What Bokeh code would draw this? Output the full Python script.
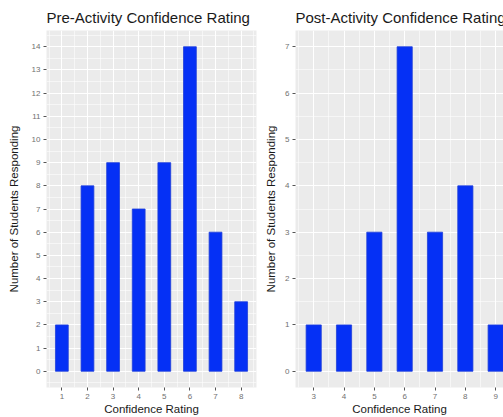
from bokeh.plotting import figure
from bokeh.layouts import row
from bokeh.models import FixedTicker, Range1d
from bokeh.embed import file_html
from bokeh.resources import INLINE

pre_ratings = [1, 2, 3, 4, 5, 6, 7, 8]
pre_counts = [2, 8, 9, 7, 9, 14, 6, 3]
post_ratings = [3, 4, 5, 6, 7, 8, 9]
post_counts = [1, 1, 3, 7, 3, 4, 1]
pre_yticks = list(range(0, 15))
post_yticks = list(range(0, 8))

FONT = "Liberation Sans"
BAR = "#0530f5"


def make(title, xs, ys, xr, yr, yticks, width, mbl, mbr, ylab_standoff):
    p = figure(width=width, height=417, x_range=Range1d(*xr), y_range=Range1d(*yr),
               output_backend="svg", toolbar_location=None,
               min_border_left=mbl, min_border_right=mbr, min_border_top=30, min_border_bottom=30)
    p.background_fill_color = "#EBEBEB"
    p.border_fill_color = "white"
    p.outline_line_color = None
    p.vbar(x=xs, top=ys, width=0.5, fill_color=BAR, line_color="#1f3fd8", line_width=0.8)

    xminor = [v + 0.5 for v in [xs[0] - 1] + list(xs)]
    yminor = [v + 0.5 for v in [-1] + list(yticks)]
    p.xaxis.ticker = FixedTicker(ticks=list(xs), minor_ticks=xminor)
    p.yaxis.ticker = FixedTicker(ticks=list(yticks), minor_ticks=yminor)
    for g in (p.xgrid, p.ygrid):
        g.grid_line_color = "white"
        g.grid_line_width = 1.1
        g.minor_grid_line_color = "white"
        g.minor_grid_line_width = 0.55
    for ax in (p.xaxis, p.yaxis):
        ax.axis_line_color = None
        ax.major_tick_line_color = "#555555"
        ax.major_tick_out = 3
        ax.major_tick_in = 0
        ax.minor_tick_line_color = None
        ax.major_label_text_font = FONT
        ax.major_label_text_font_size = "8px"
        ax.major_label_text_color = "#707070"
        ax.major_label_standoff = 2
        ax.axis_label_text_font = FONT
        ax.axis_label_text_font_size = "11.5px"
        ax.axis_label_text_font_style = "normal"
        ax.axis_label_text_color = "#1a1a1a"
    p.xaxis.axis_label_standoff = 1
    p.yaxis.axis_label_standoff = ylab_standoff
    p.xaxis.axis_label = "Confidence Rating"
    p.yaxis.axis_label = "Number of Students Responding"
    p.title.text = title
    p.title.align = "left"
    p.title.offset = 0
    p.title.text_font = FONT
    p.title.text_font_size = "15px"
    p.title.text_font_style = "normal"
    p.title.text_color = "#1a1a1a"
    return p


p1 = make("Pre-Activity Confidence Rating", pre_ratings, pre_counts,
          (0.4, 8.6), (-0.7, 14.7), pre_yticks, 262, 46, 6, 9)
p2 = make("Post-Activity Confidence Rating", post_ratings, post_counts,
          (2.4, 9.258), (-0.35, 7.35), post_yticks, 241, 33, 0, 5)

layout = row(p1, p2, spacing=0)
open("out.html", "w").write(file_html(layout, INLINE))
